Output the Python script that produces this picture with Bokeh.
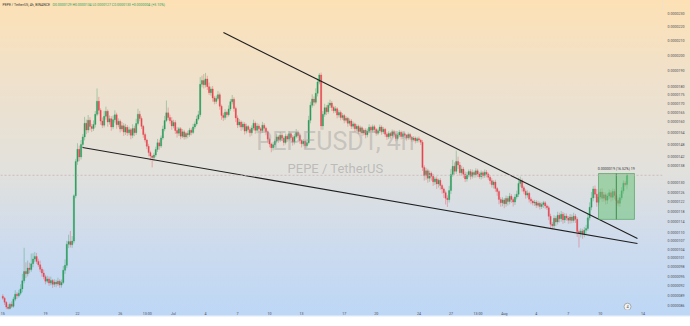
from bokeh.plotting import figure
from bokeh.models import Range1d, FixedTicker, CustomJSTickFormatter, Span, Label, ColumnDataSource
from bokeh.embed import file_html
from bokeh.resources import INLINE
from bokeh.core.properties import value

# ---------------- data (prices in units of 1e-7 USDT, time in days from 15 Jun, 4h candles) ----------------
first_open = 88.8
close = [
    88.2, 87.0, 85.6, 85.2, 86.4, 85.8, 87.9, 89.4, 88.9, 89.7,
    91.0, 93.5, 96.5, 95.8, 97.6, 97.1, 99.0, 100.6, 101.5, 99.8,
    98.7, 97.2, 96.0, 94.8, 93.4, 94.1, 92.8, 93.6, 92.4, 93.1,
    92.5, 93.4, 92.2, 93.0, 96.9, 98.5, 105.8, 106.7, 105.6, 106.9,
    124.5, 139.8, 145.6, 141.9, 148.0, 151.8, 158.9, 155.4, 160.6, 157.2,
    156.1, 158.3, 163.8, 171.2, 166.0, 160.1, 157.9, 162.7, 165.5, 159.6,
    161.4, 157.0, 160.9, 163.5, 158.2, 160.0, 155.9, 157.6, 154.3, 156.8,
    153.9, 155.5, 152.6, 156.2, 154.0, 158.8, 163.9, 161.5, 157.3, 153.0,
    150.2, 147.1, 144.0, 142.3, 141.6, 142.8, 145.5, 148.8, 147.2, 151.3,
    155.9, 160.4, 164.6, 162.0, 160.3, 157.5, 159.4, 155.1, 153.7, 156.0,
    152.2, 154.4, 151.8, 153.6, 152.9, 155.3, 154.1, 157.0, 158.6, 161.2,
    163.5, 181.2, 183.6, 180.9, 184.5, 179.8, 176.2, 178.4, 173.1, 171.0,
    172.8, 175.0, 168.3, 163.2, 162.0, 164.9, 163.6, 166.8, 170.9, 172.3,
    167.1, 161.8, 158.0, 159.6, 156.9, 158.5, 154.8, 157.2, 155.6, 153.9,
    156.4, 158.9, 155.2, 157.5, 156.0, 155.1, 157.9, 156.3, 154.5, 150.6,
    148.2, 146.4, 147.9, 149.6, 151.8, 150.3, 152.7, 151.1, 149.0, 152.2,
    150.7, 153.4, 151.5, 149.2, 152.0, 154.1, 152.5, 150.0, 148.3, 149.6,
    147.4, 148.9, 160.5, 168.9, 172.4, 170.6, 175.8, 182.6, 187.0, 157.5,
    163.8, 167.5, 165.2, 168.9, 170.1, 167.6, 165.8, 166.9, 163.4, 164.8,
    162.0, 163.1, 160.5, 161.6, 158.9, 160.2, 157.4, 158.6, 156.0, 157.3,
    154.6, 156.5, 153.8, 155.2, 152.9, 154.7, 156.8, 155.3, 157.1, 155.6,
    153.7, 155.0, 156.9, 154.4, 155.8, 153.2, 151.9, 153.6, 152.4, 154.5,
    153.1, 151.0, 152.8, 154.2, 152.0, 153.4, 152.6, 151.3, 153.0, 151.6,
    150.4, 151.2, 149.8, 150.9, 150.2, 149.1, 137.0, 133.2, 135.4, 132.1,
    134.3, 133.0, 130.5, 131.8, 129.6, 131.2, 128.9, 127.4, 125.8, 123.5,
    122.9, 126.7, 133.8, 137.5, 135.2, 139.8, 138.1, 134.6, 136.2, 133.9,
    131.8, 133.5, 135.1, 133.0, 134.7, 133.6, 135.4, 134.0, 132.8, 134.5,
    133.2, 134.8, 133.9, 132.5, 131.0, 129.2, 130.4, 127.6, 126.3, 123.0,
    121.6, 122.8, 121.2, 123.4, 122.1, 124.3, 123.0, 121.9, 124.0, 125.2,
    129.8, 131.0, 127.9, 126.4, 124.8, 125.6, 123.1, 122.3, 121.5, 121.9,
    120.6, 121.4, 120.1, 120.9, 121.6, 120.3, 119.6, 116.2, 113.1, 112.6,
    115.4, 114.0, 116.6, 115.2, 117.0, 114.8, 116.3, 115.5, 114.7, 115.9,
    114.6, 116.2, 115.0, 110.4, 109.8, 110.6, 109.5, 110.9, 111.5, 115.6,
    119.8, 123.6, 127.4, 125.2, 121.8, 124.0, 126.1, 123.5, 124.9, 122.7,
    124.4, 125.8, 123.9, 126.3, 124.6, 122.5, 121.4, 123.7, 126.6, 129.9,
    129.3, 133.4,
]
# wick lengths in tenths of 1e-7
upper_wick = [
    6, 4, 3, 8, 5, 9, 7, 12, 6, 10,
    14, 22, 80, 30, 25, 18, 35, 20, 15, 12,
    9, 14, 7, 11, 6, 10, 8, 12, 5, 9,
    7, 11, 6, 9, 14, 20, 12, 25, 39, 18,
    6, 12, 30, 18, 22, 15, 35, 20, 28, 16,
    14, 22, 18, 75, 25, 12, 20, 30, 26, 10,
    18, 14, 22, 25, 12, 16, 10, 20, 14, 18,
    12, 16, 9, 22, 14, 25, 30, 18, 12, 8,
    10, 7, 12, 9, 6, 11, 14, 20, 16, 12,
    18, 25, 70, 30, 16, 20, 14, 12, 18, 10,
    9, 15, 11, 8, 14, 12, 10, 16, 13, 18,
    22, 45, 30, 40, 38, 20, 25, 14, 18, 12,
    16, 22, 12, 10, 14, 18, 9, 20, 16, 25,
    12, 10, 14, 16, 9, 13, 11, 15, 8, 12,
    14, 20, 10, 16, 12, 9, 18, 11, 8, 6,
    9, 7, 12, 10, 14, 8, 16, 11, 9, 13,
    10, 14, 8, 12, 15, 18, 10, 9, 7, 11,
    8, 10, 25, 20, 28, 16, 30, 22, 12, 15,
    18, 22, 14, 16, 20, 12, 10, 15, 9, 13,
    11, 14, 9, 12, 8, 13, 10, 12, 7, 11,
    9, 12, 8, 10, 11, 14, 16, 9, 12, 10,
    8, 11, 13, 9, 12, 7, 10, 12, 8, 11,
    9, 7, 11, 12, 8, 10, 9, 7, 11, 8,
    7, 10, 8, 9, 11, 7, 12, 10, 14, 9,
    12, 8, 10, 9, 11, 7, 10, 8, 6, 9,
    12, 20, 25, 30, 18, 52, 22, 14, 16, 10,
    12, 14, 9, 11, 13, 8, 12, 10, 9, 11,
    8, 12, 10, 7, 9, 11, 8, 10, 7, 6,
    9, 11, 8, 12, 10, 14, 9, 8, 12, 15,
    25, 18, 10, 8, 9, 12, 7, 8, 6, 9,
    8, 10, 7, 9, 8, 7, 6, 8, 10, 9,
    12, 9, 14, 10, 13, 9, 11, 10, 8, 12,
    10, 14, 9, 8, 7, 10, 8, 12, 14, 18,
    20, 25, 12, 15, 22, 18, 14, 16, 12, 10,
    12, 14, 10, 13, 11, 9, 12, 15, 16, 12,
    10, 8,
]
lower_wick = [
    5, 8, 6, 9, 7, 5, 4, 6, 9, 5,
    6, 10, 8, 14, 9, 12, 7, 11, 10, 8,
    7, 9, 12, 8, 10, 6, 9, 7, 11, 8,
    10, 6, 9, 8, 5, 12, 9, 14, 10, 11,
    8, 10, 16, 20, 12, 14, 18, 22, 15, 20,
    18, 12, 16, 10, 22, 20, 15, 12, 18, 25,
    14, 20, 12, 16, 22, 14, 18, 12, 20, 15,
    16, 12, 20, 14, 18, 12, 10, 15, 14, 16,
    12, 14, 18, 20, 46, 16, 10, 12, 18, 9,
    10, 12, 8, 14, 16, 20, 12, 18, 22, 14,
    16, 10, 14, 12, 18, 11, 15, 9, 12, 10,
    8, 12, 18, 22, 16, 20, 14, 18, 22, 16,
    14, 12, 20, 24, 18, 12, 16, 10, 12, 15,
    18, 22, 16, 12, 20, 14, 18, 12, 16, 20,
    14, 12, 18, 15, 22, 16, 12, 14, 18, 20,
    16, 22, 14, 12, 10, 15, 11, 13, 16, 10,
    14, 11, 15, 18, 12, 10, 14, 16, 18, 12,
    14, 10, 9, 16, 14, 22, 12, 18, 14, 20,
    20, 14, 18, 12, 16, 20, 14, 12, 18, 13,
    15, 12, 16, 11, 18, 12, 15, 13, 16, 12,
    14, 11, 16, 12, 18, 13, 10, 14, 12, 16,
    13, 10, 12, 15, 11, 14, 16, 12, 15, 10,
    12, 14, 10, 11, 15, 12, 13, 14, 10, 12,
    11, 9, 13, 10, 12, 14, 16, 22, 18, 20,
    16, 20, 18, 14, 22, 16, 18, 20, 22, 26,
    30, 12, 14, 10, 16, 12, 18, 14, 12, 16,
    14, 12, 10, 15, 11, 13, 12, 14, 10, 13,
    12, 10, 14, 11, 15, 12, 16, 14, 18, 20,
    16, 14, 18, 12, 16, 11, 14, 18, 12, 10,
    12, 14, 16, 12, 15, 11, 14, 13, 10, 12,
    11, 9, 12, 10, 14, 11, 9, 15, 18, 14,
    12, 16, 10, 14, 11, 15, 12, 10, 14, 13,
    11, 9, 14, 20, 52, 16, 18, 12, 14, 8,
    10, 12, 14, 16, 18, 12, 10, 15, 14, 18,
    16, 12, 18, 14, 16, 20, 12, 14, 10, 12,
    8, 20,
]
candle_days = 1 / 6

x_tick_days = [0, 4, 7, 11, 13.54, 16, 19, 22, 25, 28, 32, 35, 39, 42, 44.54, 47, 50, 53, 56, 60]
x_tick_labels = ["15", "19", "22", "26", "13:00", "Jul", "4", "7", "10", "13",
                 "17", "20", "24", "27", "13:00", "Aug", "4", "7", "10", "14"]
y_ticks = [230, 220, 210, 200, 190, 180, 175, 170, 165, 160, 154, 148, 142, 138,
           130, 126, 122, 118, 114, 110, 107, 104, 101, 98, 95, 92, 89, 86]

upper_line_x = [20.68, 59.48]
upper_line_p = [215.7, 107.8]
lower_line_x = [7.47, 59.48]
lower_line_p = [146.5, 106.0]
range_box_x = [55.83, 59.2]
range_box_p = [115.0, 134.2]
range_mid_x = 57.5
last_price = 133.4
event_x, event_p = 58.55, 85.7

# ---------------- build candles ----------------
opens = [first_open] + close[:-1]
xs = [i * candle_days for i in range(len(close))]
hi = [max(o, c) + u / 10 for o, c, u in zip(opens, close, upper_wick)]
lo = [min(o, c) - l / 10 for o, c, l in zip(opens, close, lower_wick)]
GREEN = "#2d9e5e"
RED = "#e64852"
col = [GREEN if c >= o else RED for o, c in zip(opens, close)]
src = ColumnDataSource(dict(x=xs, top=[max(o, c) for o, c in zip(opens, close)],
                            bottom=[min(o, c) for o, c in zip(opens, close)],
                            hi=hi, lo=lo, col=col))

FRAME_W, FRAME_H = 662, 309
PX_PER_DAY = 10.67
x0 = -2.3 / PX_PER_DAY

p = figure(width=690, height=326, output_backend="svg", toolbar_location=None,
           y_axis_type="log", y_axis_location="right",
           x_range=Range1d(x0, x0 + FRAME_W / PX_PER_DAY),
           y_range=Range1d(84.9, 240.3),
           min_border_left=0, min_border_top=0, min_border_right=28, min_border_bottom=17)
p.background_fill_alpha = 0
p.border_fill_alpha = 0
p.outline_line_color = None
p.styles = {"background": "linear-gradient(to bottom, #fde1b5 0%, #efe1cc 25%, #e2e1dc 52%, #cddbee 75%, #bdd7f5 96.5%, #ffffff 97.3%, #ffffff 100%)"}
p.grid.grid_line_color = None

# axes
p.yaxis.ticker = FixedTicker(ticks=y_ticks)
p.yaxis.formatter = CustomJSTickFormatter(code="return (tick*1e-7).toFixed(7);")
p.yaxis.axis_line_color = None
p.yaxis.major_tick_line_color = None
p.yaxis.minor_tick_line_color = None
p.yaxis.major_tick_out = 0
p.yaxis.major_tick_in = 0
p.yaxis.minor_tick_out = 0
p.yaxis.major_label_text_font_size = "3.6px"
p.yaxis.major_label_text_color = "#4d4d57"
p.yaxis.major_label_text_font = "Roboto"
p.yaxis.major_label_standoff = 5

p.xaxis.ticker = FixedTicker(ticks=x_tick_days)
p.xaxis.major_label_overrides = {d: t for d, t in zip(x_tick_days, x_tick_labels)}
p.xaxis.axis_line_color = None
p.xaxis.major_tick_line_color = None
p.xaxis.minor_tick_line_color = None
p.xaxis.major_tick_out = 0
p.xaxis.major_tick_in = 0
p.xaxis.minor_tick_out = 0
p.xaxis.major_label_text_font_size = "3.6px"
p.xaxis.major_label_text_color = "#4d4d57"
p.xaxis.major_label_text_font = "Roboto"
p.xaxis.major_label_standoff = 2

# watermark
p.add_layout(Label(x=335, y=FRAME_H - 141, x_units="screen", y_units="screen", text="PEPEUSDT, 4h",
                   text_font="Roboto", text_font_size="25px", text_color="#9a9a9a", text_alpha=0.42,
                   text_align="center", text_baseline="middle"))
p.add_layout(Label(x=335, y=FRAME_H - 168, x_units="screen", y_units="screen", text="PEPE / TetherUS",
                   text_font="Roboto", text_font_size="13px", text_color="#9a9a9a", text_alpha=0.55,
                   text_align="center", text_baseline="middle"))

# current price line
p.add_layout(Span(location=last_price, dimension="width", line_color="#c9b9bb", line_width=1,
                  line_dash="2 2", line_alpha=0.9))

# candles
p.segment(x0="x", y0="lo", x1="x", y1="hi", source=src, line_color="col", line_width=0.9, line_alpha=0.42)
p.vbar(x="x", top="top", bottom="bottom", width=0.12, source=src, fill_color="col", line_color="col",
       line_width=0.3)

# trend lines
p.line(upper_line_x, upper_line_p, line_color="#1f1f1f", line_width=1.1)
p.line(lower_line_x, lower_line_p, line_color="#1f1f1f", line_width=1.1)

# price range box
p.quad(left=[range_box_x[0]], right=[range_box_x[1]], bottom=[range_box_p[0]], top=[range_box_p[1]],
       fill_color="#6cc27a", fill_alpha=0.55, line_color="#4a9d58", line_width=0.8, line_alpha=0.8)
p.segment(x0=[range_mid_x], y0=[range_box_p[0]], x1=[range_mid_x], y1=[range_box_p[1]],
          line_color="#3f8a4c", line_width=1)
p.add_layout(Label(x=range_mid_x, y=range_box_p[1], y_offset=5, text="0.0000019 (16.52%) 19",
                   text_font="Roboto", text_font_size="3.6px", text_color="#333333",
                   text_align="center", text_baseline="middle"))

# event marker
p.scatter([event_x], [event_p], size=7, fill_color="#f2f2f2", line_color="#9a9a9a", line_width=0.8)
p.text([event_x], [event_p], text=["4"], text_font=value("Roboto"), text_font_size="4px",
       text_align="center", text_baseline="middle", text_color="#555555")

# header
p.add_layout(Label(x=2, y=FRAME_H - 4, x_units="screen", y_units="screen",
                   text="PEPE / TetherUS, 4h, BINANCE",
                   text_font="Roboto", text_font_size="3.5px", text_color="#333333",
                   text_baseline="middle"))
p.add_layout(Label(x=52, y=FRAME_H - 4, x_units="screen", y_units="screen",
                   text="O0.0000129  H0.0000134  L0.0000127  C0.0000133  +0.0000004 (+3.10%)",
                   text_font="Roboto", text_font_size="3.5px", text_color="#2a9d5c",
                   text_baseline="middle"))

# axis badges
p.add_layout(Label(x=664, y=last_price, x_units="screen", y_units="data", text="0.0000133",
                   text_font="Roboto", text_font_size="3.6px", text_color="white",
                   background_fill_color="#2a9d5c", text_baseline="middle", padding=2))
p.add_layout(Label(x=662, y=FRAME_H - 4.5, x_units="screen", y_units="screen", text="USDT",
                   text_font="Roboto", text_font_size="3.4px", text_color="#555555",
                   background_fill_color="white", border_line_color="#cccccc", border_line_width=0.5,
                   text_baseline="middle", padding=2))

# logo
p.add_layout(Label(x=3, y=-12, x_units="screen", y_units="screen", text="TV TradingView",
                   text_font="Roboto", text_font_size="3.8px", text_color="#222222",
                   text_font_style="bold", text_baseline="middle"))

open("out.html", "w").write(file_html(p, INLINE))
